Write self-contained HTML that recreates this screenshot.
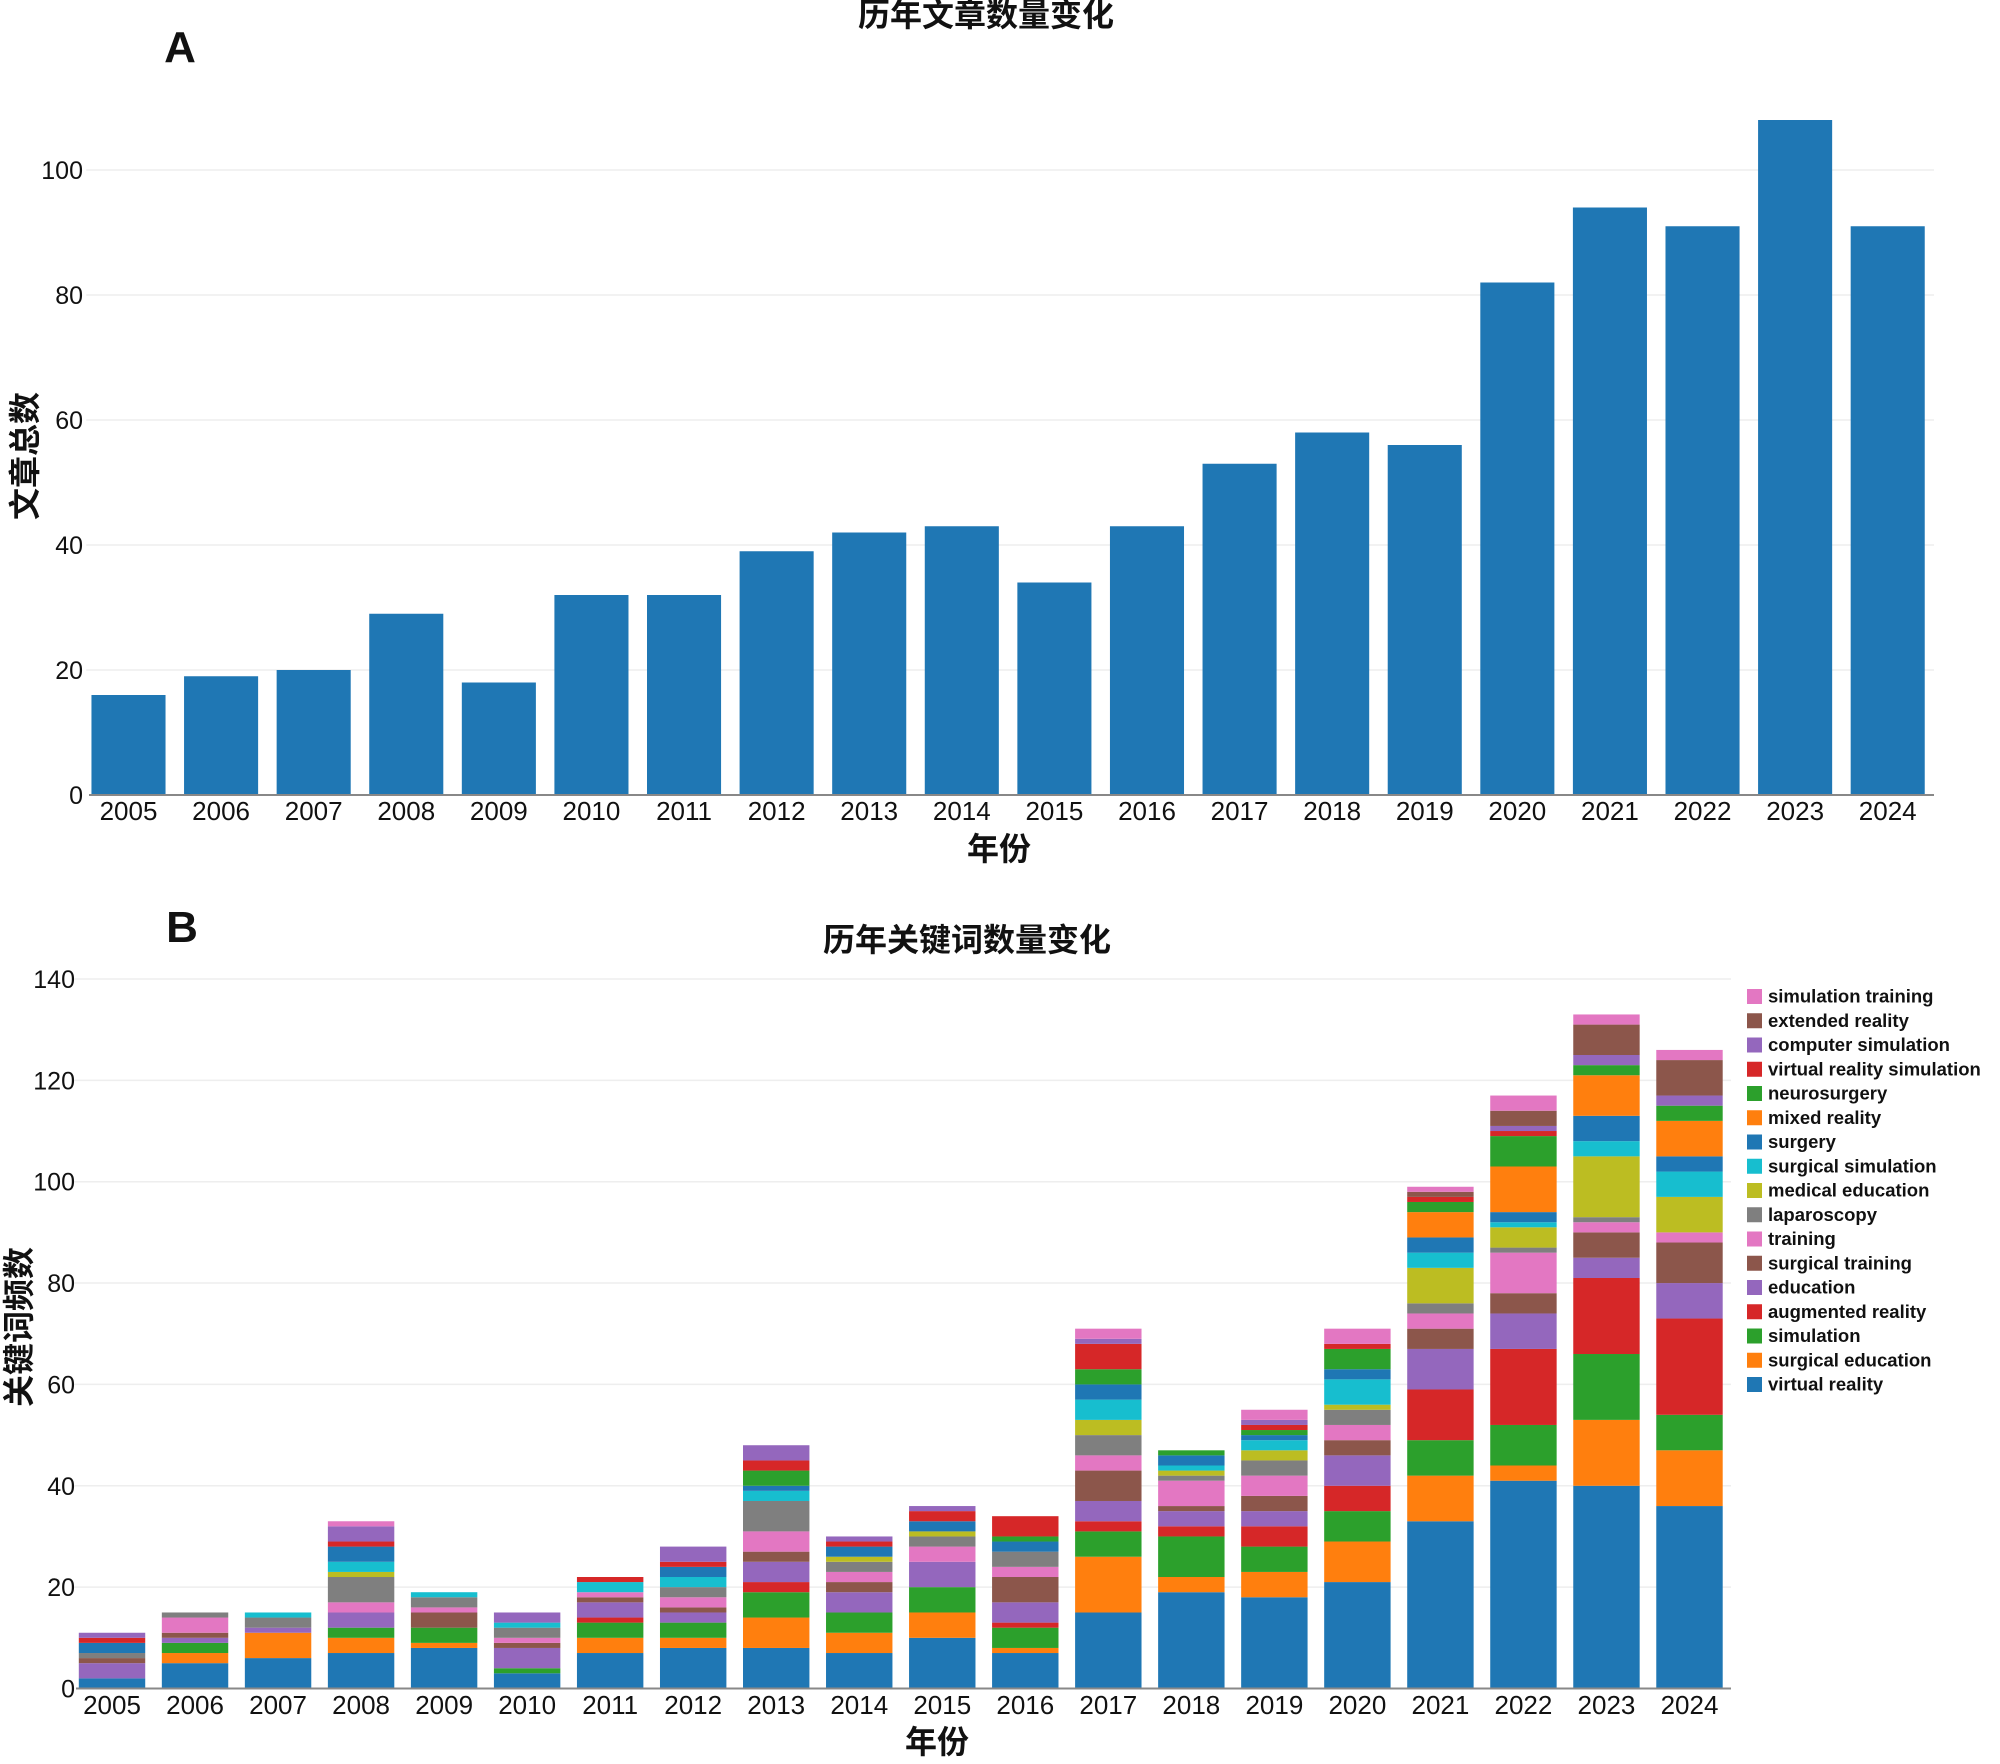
<!DOCTYPE html>
<html><head><meta charset="utf-8">
<style>
html,body{margin:0;padding:0;background:#fff;}
svg{display:block;}
text{font-family:"Liberation Sans","Noto Sans CJK SC",sans-serif;fill:#111;}
</style></head>
<body>
<svg id="root" width="2000" height="1764" viewBox="0 0 2000 1764" xmlns="http://www.w3.org/2000/svg">
<g id="chartA"></g>
<g id="chartB"></g>
</svg>
<script>
const years = ["2005","2006","2007","2008","2009","2010","2011","2012","2013","2014","2015","2016","2017","2018","2019","2020","2021","2022","2023","2024"];
const articleCounts = [16,19,20,29,18,32,32,39,42,43,34,43,53,58,56,82,94,91,108,91];
const ticksA = [0,20,40,60,80,100];
const ticksB = [0,20,40,60,80,100,120,140];
const seriesNames = ["virtual reality","surgical education","simulation","augmented reality","education","surgical training","training","laparoscopy","medical education","surgical simulation","surgery","mixed reality","neurosurgery","virtual reality simulation","computer simulation","extended reality","simulation training"];
const seriesColors = ["#1f77b4","#ff7f0e","#2ca02c","#d62728","#9467bd","#8c564b","#e377c2","#7f7f7f","#bcbd22","#17becf","#1f77b4","#ff7f0e","#2ca02c","#d62728","#9467bd","#8c564b","#e377c2"];
// per-year values, order follows seriesNames
const kw2005 = [2,0,0,0,3,1,0,1,0,0,2,0,0,1,1,0,0];
const kw2006 = [5,2,2,0,1,1,3,1,0,0,0,0,0,0,0,0,0];
const kw2007 = [6,5,0,0,1,0,0,2,0,1,0,0,0,0,0,0,0];
const kw2008 = [7,3,2,0,3,0,2,5,1,2,3,0,0,1,3,0,1];
const kw2009 = [8,1,3,0,0,3,1,2,0,1,0,0,0,0,0,0,0];
const kw2010 = [3,0,1,0,4,1,1,2,0,1,0,0,0,0,2,0,0];
const kw2011 = [7,3,3,1,3,1,1,0,0,2,0,0,0,1,0,0,0];
const kw2012 = [8,2,3,0,2,1,2,2,0,2,2,0,0,1,3,0,0];
const kw2013 = [8,6,5,2,4,2,4,6,0,2,1,0,3,2,3,0,0];
const kw2014 = [7,4,4,0,4,2,2,2,1,0,2,0,0,1,1,0,0];
const kw2015 = [10,5,5,0,5,0,3,2,1,0,2,0,0,2,1,0,0];
const kw2016 = [7,1,4,1,4,5,2,3,0,0,2,0,1,4,0,0,0];
const kw2017 = [15,11,5,2,4,6,3,4,3,4,3,0,3,5,1,0,2];
const kw2018 = [19,3,8,2,3,1,5,1,1,1,2,0,1,0,0,0,0];
const kw2019 = [18,5,5,4,3,3,4,3,2,2,1,0,1,1,1,0,2];
const kw2020 = [21,8,6,5,6,3,3,3,1,5,2,0,4,1,0,0,3];
const kw2021 = [33,9,7,10,8,4,3,2,7,3,3,5,2,1,0,1,1];
const kw2022 = [41,3,8,15,7,4,8,1,4,1,2,9,6,1,1,3,3];
const kw2023 = [40,13,13,15,4,5,2,1,12,3,5,8,2,0,2,6,2];
const kw2024 = [36,11,7,19,7,8,2,0,7,5,3,7,3,0,2,7,2];
const keywordData = [kw2005,kw2006,kw2007,kw2008,kw2009,kw2010,kw2011,kw2012,kw2013,kw2014,kw2015,kw2016,kw2017,kw2018,kw2019,kw2020,kw2021,kw2022,kw2023,kw2024];

const NS = "http://www.w3.org/2000/svg";
function mk(tag, attrs, parent, txt){
  const e = document.createElementNS(NS, tag);
  for (const k in attrs) e.setAttribute(k, attrs[k]);
  if (txt !== undefined) e.textContent = txt;
  parent.appendChild(e);
  return e;
}

function drawAxes(g, cfg, ticks){
  const {x0,x1,y0,yScale} = cfg;
  ticks.forEach(t=>{
    const y = yScale(t);
    if (t>0){
      const l = mk("line",{x1:x0+4,x2:x1,y1:y,y2:y,stroke:"#eeeeee","stroke-width":1.5},g);
      
      
    }
    const tx = mk("text",{x:cfg.tickX,y:y+9,"text-anchor":"end","font-size":25},g,String(t));
    
    
  });
}

// ---------- Chart A ----------
(function(){
  const g = document.getElementById("chartA");
  const x0 = 82.2, x1 = 1934, y0 = 795, unit = 6.25;
  const band = (x1-x0)/years.length;
  const yScale = v => y0 - v*unit;
  const xBand = i => x0 + i*band;
  drawAxes(g,{x0,x1,y0,yScale,tickX:83},ticksA);
  articleCounts.forEach((v,i)=>{
    const r = mk("rect",{x:xBand(i)+band*0.1,y:yScale(v),width:band*0.8,height:v*unit,fill:"#1f77b4"},g);
    
    
  });
  const ax = mk("line",{x1:89,x2:x1,y1:y0,y2:y0,stroke:"#888","stroke-width":2},g);
  
  
  years.forEach((yr,i)=>{
    const t = mk("text",{x:xBand(i)+band/2,y:820,"text-anchor":"middle","font-size":26},g,yr);
    
    
  });
  const tt = mk("text",{x:986,y:26,"text-anchor":"middle","font-size":32,"font-weight":"bold"},g,"历年文章数量变化");
  
  
  const pa = mk("text",{x:180,y:62,"text-anchor":"middle","font-size":44,"font-weight":"bold"},g,"A");
  
  
  const yt = mk("text",{x:0,y:0,"text-anchor":"middle","font-size":32,"font-weight":"bold",transform:"translate(36,456) rotate(-90)"},g,"文章总数");
  
  
  const xt = mk("text",{x:999,y:860,"text-anchor":"middle","font-size":32,"font-weight":"bold"},g,"年份");
  
  
})();

// ---------- Chart B ----------
(function(){
  const g = document.getElementById("chartB");
  const x0 = 70.5, x1 = 1731, y0 = 1688.5, unit = 5.068;
  const band = (x1-x0)/years.length;
  const yScale = v => y0 - v*unit;
  const xBand = i => x0 + i*band;
  drawAxes(g,{x0,x1,y0,yScale,tickX:75},ticksB);
  keywordData.forEach((vals,i)=>{
    let cum = 0;
    vals.forEach((v,s)=>{
      if (v<=0) return;
      const r = mk("rect",{x:xBand(i)+band*0.1,y:yScale(cum+v),width:band*0.8,height:v*unit,fill:seriesColors[s]},g);
      
      
      cum += v;
    });
  });
  const ax = mk("line",{x1:76,x2:x1,y1:y0,y2:y0,stroke:"#888","stroke-width":2},g);
  
  
  years.forEach((yr,i)=>{
    const t = mk("text",{x:xBand(i)+band/2,y:1714,"text-anchor":"middle","font-size":26},g,yr);
    
    
  });
  const tt = mk("text",{x:967,y:951,"text-anchor":"middle","font-size":32,"font-weight":"bold"},g,"历年关键词数量变化");
  
  
  const pb = mk("text",{x:182,y:942,"text-anchor":"middle","font-size":44,"font-weight":"bold"},g,"B");
  
  
  const yt = mk("text",{x:0,y:0,"text-anchor":"middle","font-size":32,"font-weight":"bold",transform:"translate(30,1327) rotate(-90)"},g,"关键词频数");
  
  
  const xt = mk("text",{x:937,y:1753,"text-anchor":"middle","font-size":32,"font-weight":"bold"},g,"年份");
  
  
  // legend (top entry = last series)
  const lg = mk("g",{},g);
  
  
  for (let k=0;k<seriesNames.length;k++){
    const s = seriesNames.length-1-k;
    const y = 996 + k*24.25;
    const eg = mk("g",{},lg);
    
    
    mk("rect",{x:1747,y:y-7,width:15,height:15,fill:seriesColors[s]},eg);
    mk("text",{x:1768,y:y+6.5,"font-size":18.5,"font-weight":"bold"},eg,seriesNames[s]);
  }
})();
</script>
</body></html>
